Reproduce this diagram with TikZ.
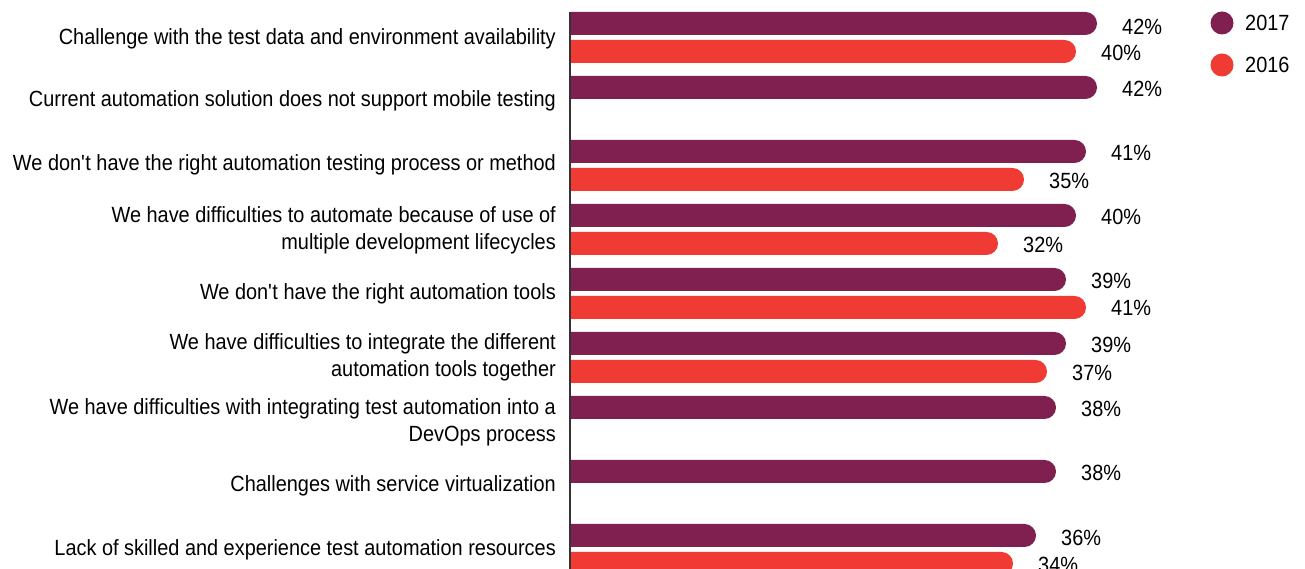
\documentclass[tikz,border=0pt]{standalone}
\usepackage{fontspec}
\setmainfont[FakeStretch=0.905]{Liberation Sans}
\definecolor{c2017}{RGB}{128,32,80}
\definecolor{c2016}{RGB}{239,59,51}
\newcommand\chartbar[3]{%
  \fill[#1] (571,{546-#2}) -- ({#3-11.5},{546-#2}) arc[start angle=-90,end angle=90,radius=11.5] -- (571,{569-#2}) -- cycle;}
\tikzset{
  catlabel/.style={anchor=east,align=right,inner sep=0pt,font=\fontsize{22}{27}\selectfont},
  pct/.style={anchor=west,inner sep=0pt,font=\fontsize{22}{24}\selectfont},
  legtext/.style={anchor=west,inner sep=0pt,font=\fontsize{22}{24}\selectfont},
}
\begin{document}
\begin{tikzpicture}[x=1pt,y=1pt]
\useasboundingbox (0,0) rectangle (1305,569);
% bars
\chartbar{c2017}{12}{1097}
\chartbar{c2016}{40}{1076}
\chartbar{c2017}{76}{1097}
\chartbar{c2017}{140}{1086}
\chartbar{c2016}{168}{1024}
\chartbar{c2017}{204}{1076}
\chartbar{c2016}{232}{998}
\chartbar{c2017}{268}{1066}
\chartbar{c2016}{296}{1086}
\chartbar{c2017}{332}{1066}
\chartbar{c2016}{360}{1047}
\chartbar{c2017}{396}{1056}
\chartbar{c2017}{460}{1056}
\chartbar{c2017}{524}{1036}
\chartbar{c2016}{552}{1013}
% axis
\coordinate (axtop) at (570,557);
\coordinate (axbot) at (570,0);
\draw[line width=2pt,black!80] (axtop) -- (axbot);
% percent labels
\node[pct] (p1a) at (1122,{569-27}) {42\%};
\node[pct] (p1b) at (1101,{569-52.5}) {40\%};
\node[pct] (p2a) at (1122,{569-88.5}) {42\%};
\node[pct] (p3a) at (1111,{569-153}) {41\%};
\node[pct] (p3b) at (1049,{569-180.5}) {35\%};
\node[pct] (p4a) at (1101,{569-217}) {40\%};
\node[pct] (p4b) at (1023,{569-244.5}) {32\%};
\node[pct] (p5a) at (1091,{569-280.5}) {39\%};
\node[pct] (p5b) at (1111,{569-307.5}) {41\%};
\node[pct] (p6a) at (1091,{569-345}) {39\%};
\node[pct] (p6b) at (1072,{569-372.5}) {37\%};
\node[pct] (p7a) at (1081,{569-408.5}) {38\%};
\node[pct] (p8a) at (1081,{569-472.5}) {38\%};
\node[pct] (p9a) at (1061,{569-537.5}) {36\%};
\node[pct] (p9b) at (1038,{569-564.5}) {34\%};
% category labels
\node[catlabel] (l1) at (556,{569-39}) {Challenge with the test data and environment availability};
\node[catlabel] (l2) at (556,{569-101}) {Current automation solution does not support mobile testing};
\node[catlabel] (l3) at (556,{569-165}) {We don\textquotesingle t have the right automation testing process or method};
\node[catlabel] (l4) at (556,{569-230.5}) {We have difficulties to automate because of use of\\multiple development lifecycles};
\node[catlabel] (l5) at (556,{569-294}) {We don\textquotesingle t have the right automation tools};
\node[catlabel] (l6) at (556,{569-357.5}) {We have difficulties to integrate the different\\automation tools together};
\node[catlabel] (l7) at (556,{569-422.5}) {We have difficulties with integrating test automation into a\\DevOps process};
\node[catlabel] (l8) at (556,{569-486}) {Challenges with service virtualization};
\node[catlabel] (l9) at (556,{569-550}) {Lack of skilled and experience test automation resources};
% legend
\fill[c2017] (1222,{569-23}) circle (11.5);
\fill[c2016] (1222,{569-65}) circle (11.5);
\node[legtext] (g1) at (1245,{569-23}) {2017};
\node[legtext] (g2) at (1245,{569-65}) {2016};
\end{tikzpicture}
\end{document}
